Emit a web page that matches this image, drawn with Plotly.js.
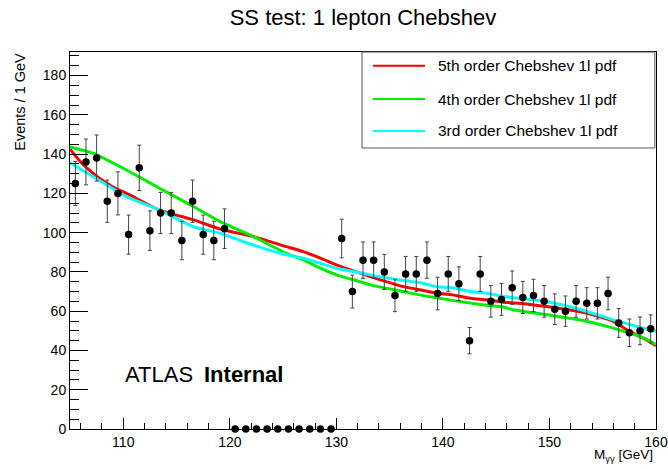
<!DOCTYPE html>
<html>
<head>
<meta charset="utf-8">
<script src="https://cdn.plot.ly/plotly-3.0.1.min.js"></script>
<style>html,body{margin:0;padding:0;background:#fff;}#chart{width:668px;height:469px;}</style>
</head>
<body>
<div id="chart"></div>
<script>
// ---- data ----
const binCenters = [105.5,106.5,107.5,108.5,109.5,110.5,111.5,112.5,113.5,114.5,115.5,116.5,117.5,118.5,119.5,
  120.5,121.5,122.5,123.5,124.5,125.5,126.5,127.5,128.5,129.5,
  130.5,131.5,132.5,133.5,134.5,135.5,136.5,137.5,138.5,139.5,140.5,141.5,142.5,143.5,144.5,
  145.5,146.5,147.5,148.5,149.5,150.5,151.5,152.5,153.5,154.5,155.5,156.5,157.5,158.5,159.5];
const events = [125,136,138,116,120,99,133,101,110,110,96,116,99,96,102,
  0,0,0,0,0,0,0,0,0,0,
  97,70,86,86,80,68,79,79,86,69,79,74,45,79,65,
  66,72,67,68,65,61,60,65,64,64,69,54,49,50,51];

const cheb5X = [105,106,107,108,109,110.6,113.4,116.6,119.1,122.2,125.3,126.9,128.5,130,131.6,133.2,136.3,137.8,139.4,140.9,142.6,144.1,145.7,147.2,149.7,152.8,154.4,156,157.5,159.1,160];
const cheb5Y = [142.5,136,131,126.8,123.4,119.2,111.5,106.5,101.8,98,92.9,90.3,87,83.6,80.5,77.6,72.5,70.9,69.2,68.3,66.6,65.8,64.6,64.1,62.4,59.8,57.6,54.8,49.7,45.4,42.4];

const cheb4X = [105,107.2,110.3,113.4,116.6,119.1,122.2,125.3,126.9,128.5,130,131.6,133.2,136.3,137.8,139.4,140.9,142.6,144.1,145.7,146.6,149.7,152.8,156,159.1,160];
const cheb4Y = [143.7,140.4,131.9,122.6,113.2,105.6,98,89.5,86.1,81.9,78.5,76,73.4,70,68.3,66.8,65.5,64.1,63,62.1,60.7,58.2,55.6,51.4,45.8,42.9];

const cheb3X = [105,107.2,110.3,113.4,116.6,119.1,122.2,125.3,126.9,128.5,130,131.6,133.2,136.3,137.8,139.4,140.9,142.6,144.1,145.7,147.2,149.7,152.8,156,159.1,160];
const cheb3Y = [135.6,128.5,118.3,111.5,103,99.7,93.7,88.7,87,84.4,81.9,80.2,78.5,75.6,74.6,72.5,72,70,69.2,67.5,66.5,64.9,61,55.6,50.9,49.7];

const legendLabels = ["5th order Chebshev 1l pdf","4th order Chebshev 1l pdf","3rd order Chebshev 1l pdf"];
const curveColors = ["#ff0000","#00ee00","#00ffff"];

const FONT = "Liberation Sans, Arial, Helvetica, sans-serif";

const curves = [[cheb5X,cheb5Y],[cheb4X,cheb4Y],[cheb3X,cheb3Y]];
const traces = curves.map((c,i)=>({
  type:'scatter', mode:'lines', x:c[0], y:c[1], name:legendLabels[i],
  line:{color:curveColors[i], width:3, shape:'spline', smoothing:0.6},
  hoverinfo:'skip', showlegend:false
}));
traces.push({
  type:'scatter', mode:'markers', x:binCenters, y:events, name:'data',
  marker:{color:'#000', size:7.5},
  error_y:{type:'sqrt', visible:true, color:'#444', thickness:1, width:2},
  cliponaxis:false, showlegend:false
});

// manual ROOT-style legend (paper coords)
const rowY = [0.9637, 0.8753, 0.7905];
const shapes = [{type:'rect', xref:'paper', yref:'paper', x0:0.4983, x1:0.998, y0:0.7454, y1:1,
  line:{color:'#555', width:1}, fillcolor:'rgba(255,255,255,0)'}];
const annotations = [];
legendLabels.forEach((t,i)=>{
  shapes.push({type:'line', xref:'paper', yref:'paper', x0:0.5171, x1:0.6058, y0:rowY[i], y1:rowY[i],
    line:{color:curveColors[i], width:2}});
  annotations.push({xref:'paper', yref:'paper', x:0.6246, y:rowY[i], xanchor:'left', yanchor:'middle',
    text:t, showarrow:false, font:{family:FONT, size:15.5, color:'#000'}});
});
annotations.push({xref:'paper', yref:'paper', x:0.0899, y:0.144, xanchor:'left', yanchor:'middle',
  text:'ATLAS', showarrow:false, font:{family:FONT, size:22, color:'#000'}});
annotations.push({xref:'paper', yref:'paper', x:0.2247, y:0.144, xanchor:'left', yanchor:'middle',
  text:'<b>Internal</b>', showarrow:false, font:{family:FONT, size:22, color:'#000'}});
annotations.push({xref:'paper', yref:'paper', x:-0.0853, y:0.868, xanchor:'center', yanchor:'middle',
  textangle:-90, text:'Events / 1 GeV', showarrow:false, font:{family:FONT, size:14.5, color:'#000'}});
annotations.push({xref:'paper', yref:'paper', x:0.998, y:-0.071, xanchor:'right', yanchor:'middle',
  text:'M<sub>γγ</sub> [GeV]', showarrow:false, font:{family:FONT, size:13.5, color:'#000'}});

const layout = {
  width:668, height:469,
  margin:{l:70, r:12, t:52, b:40},
  paper_bgcolor:'#fff', plot_bgcolor:'#fff',
  font:{family:FONT, size:14, color:'#000'},
  title:{text:'SS test: 1 lepton Chebshev', x:0.5, xref:'paper', xanchor:'center',
    y:0.964, yref:'container', yanchor:'middle', font:{family:FONT, size:22, color:'#000'}},
  showlegend:false,
  xaxis:{range:[105,160], dtick:10, tick0:0, ticks:'inside', ticklen:11, tickcolor:'#000',
    showline:true, mirror:true, linecolor:'#000', linewidth:1, showgrid:false, zeroline:false,
    tickfont:{family:FONT, size:14, color:'#000'},
    minor:{dtick:2, tick0:0, ticks:'inside', ticklen:6, tickcolor:'#000', showgrid:false}},
  yaxis:{range:[0,192], dtick:20, tick0:0, ticks:'inside', ticklen:18, tickcolor:'#000',
    showline:true, mirror:true, linecolor:'#000', linewidth:1, showgrid:false, zeroline:false,
    tickfont:{family:FONT, size:14, color:'#000'},
    minor:{dtick:5, tick0:0, ticks:'inside', ticklen:9, tickcolor:'#000', showgrid:false}},
  shapes:shapes,
  annotations:annotations
};

Plotly.newPlot('chart', traces, layout, {displayModeBar:false, staticPlot:true});
</script>
</body>
</html>
